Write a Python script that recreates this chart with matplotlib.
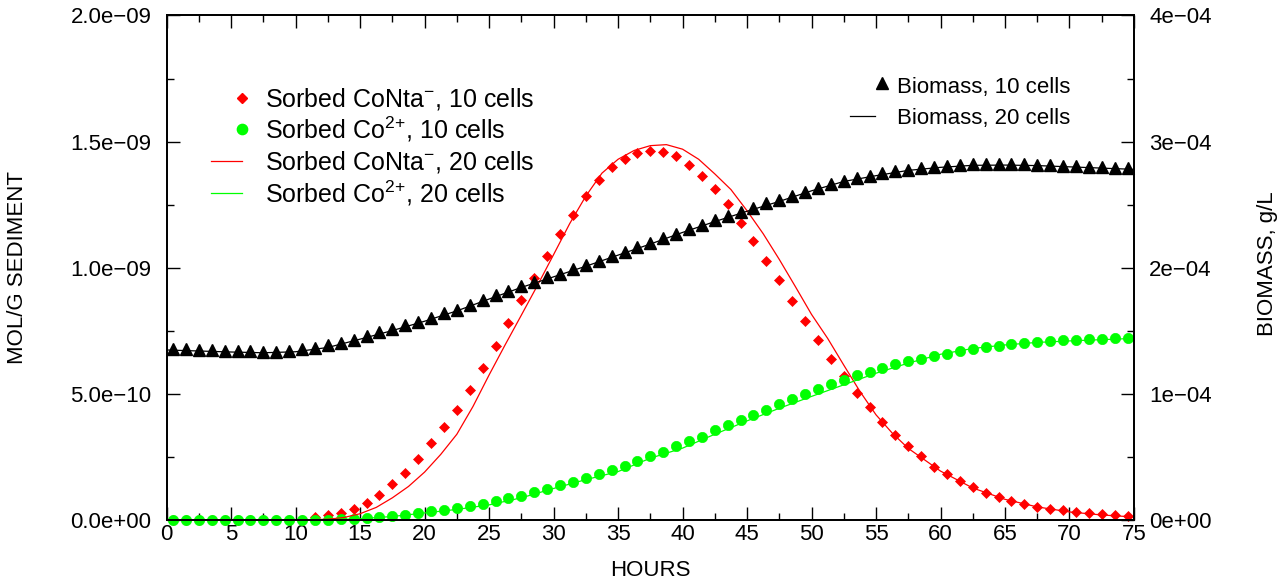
import matplotlib.pyplot as plt
import numpy as np
from matplotlib.ticker import FuncFormatter

# =========================
# DATA  (sorbed values in 1e-10 mol/g, biomass in 1e-4 g/L)
# =========================

HOURS_10 = np.arange(0.5, 75.0, 1.0)   # sample times of the 10-cell run

CONTA_10 = [0, 0, 0, 0, 0, 0, 0, 0, 0, 0, 0.02,
            0.10, 0.19, 0.29, 0.45, 0.68, 0.98, 1.41, 1.87, 2.43, 3.06, 3.67, 4.35, 5.15, 6.02,
            6.90, 7.81, 8.71, 9.61, 10.48, 11.32, 12.11, 12.85, 13.46, 13.98,
            14.31, 14.53, 14.64, 14.58, 14.42, 14.08, 13.64, 13.13, 12.51, 11.79,
            11.08, 10.27, 9.50, 8.67, 7.90,
            7.15, 6.40, 5.69, 5.05, 4.48, 3.88, 3.38, 2.94, 2.52, 2.12,
            1.83, 1.56, 1.30, 1.09, 0.90, 0.76, 0.63, 0.52, 0.44, 0.38,
            0.31, 0.26, 0.22, 0.18, 0.14]

CO_10 = [0, 0, 0, 0, 0, 0, 0, 0, 0, 0, 0, 0,
         0.02, 0.03, 0.05, 0.08, 0.11, 0.16, 0.21, 0.27, 0.34, 0.40, 0.48, 0.56, 0.64,
         0.77, 0.87, 0.97, 1.10, 1.24, 1.37, 1.50, 1.66, 1.83, 1.99,
         2.15, 2.33, 2.52, 2.71, 2.92, 3.13, 3.31, 3.55, 3.75, 3.96,
         4.17, 4.38, 4.58, 4.79, 4.99,
         5.18, 5.38, 5.56, 5.73, 5.88, 6.02, 6.17, 6.30, 6.40, 6.52,
         6.60, 6.69, 6.78, 6.85, 6.90, 6.96, 7.02, 7.06, 7.08, 7.12,
         7.14, 7.16, 7.17, 7.20, 7.23]

BIOMASS_10 = [1.354, 1.352, 1.350, 1.350, 1.342, 1.340, 1.340, 1.336, 1.336, 1.340,
              1.354, 1.366, 1.384, 1.406, 1.430, 1.456, 1.488, 1.512, 1.544, 1.572,
              1.602, 1.638, 1.668, 1.704, 1.742,
              1.782, 1.814, 1.854, 1.888, 1.924, 1.954, 1.988, 2.022, 2.054, 2.092,
              2.126, 2.162, 2.198, 2.236, 2.268, 2.308, 2.340, 2.376, 2.408, 2.440,
              2.474, 2.510, 2.536, 2.572, 2.602,
              2.636, 2.662, 2.686, 2.708, 2.728, 2.748, 2.764, 2.776, 2.792, 2.800,
              2.808, 2.816, 2.820, 2.822, 2.822, 2.822, 2.820, 2.816, 2.812, 2.808,
              2.804, 2.800, 2.798, 2.792, 2.788]

HOURS_20 = np.arange(0.0, 75.1, 2.5)   # sample times of the 20-cell run

CO_20 = [0, 0, 0, 0, 0, 0.01, 0.05, 0.14, 0.28, 0.42, 0.60, 0.88, 1.25, 1.60, 1.92,
         2.45, 2.85, 3.40, 3.93, 4.43, 4.90, 5.36, 5.82, 6.22, 6.57, 6.80, 6.94,
         7.04, 7.10, 7.15, 7.20]

BIOMASS_20 = [1.348, 1.340, 1.332, 1.326, 1.334, 1.368, 1.434, 1.502, 1.576, 1.658,
              1.752, 1.844, 1.928, 2.012, 2.100, 2.188, 2.280, 2.366, 2.448, 2.526,
              2.610, 2.684, 2.730, 2.772, 2.796, 2.812, 2.814, 2.810, 2.800, 2.790,
              2.780]

HOURS_20_CONTA = [0, 2.5, 5, 7.5, 10, 12.5, 13.75, 15, 16.25, 17.5, 18.75, 20, 21.25,
                  22.5, 23.75, 25, 26.25, 27.5, 28.75, 30, 31.25, 32.5, 33.75, 35,
                  36.25, 37.5, 38.75, 40, 41.25, 42.5, 43.75, 45, 46.25, 47.5, 48.75,
                  50, 51.25, 52.5, 53.75, 55, 56.25, 57.5, 60, 62.5, 65, 67.5, 70,
                  72.5, 75]
CONTA_20 = [0, 0, 0, 0, 0, 0.03, 0.10, 0.25, 0.50, 0.88, 1.33, 1.90, 2.60,
            3.40, 4.50, 5.75, 6.95, 8.12, 9.30, 10.52, 11.75, 12.84, 13.75, 14.30,
            14.65, 14.84, 14.88, 14.70, 14.30, 13.72, 13.10, 12.26, 11.35, 10.33, 9.25,
            8.15, 7.20, 6.14, 5.10, 4.17, 3.45, 2.84, 1.94, 1.27, 0.82, 0.52, 0.32,
            0.20, 0.12]

SORB_UNIT = 1e-10
BIO_UNIT = 1e-4

RED = "#ff0000"
GREEN = "#00ff00"

# =========================
# STYLE
# =========================

plt.rcParams['font.family'] = ['Liberation Sans', 'DejaVu Sans']
plt.rcParams['mathtext.fontset'] = 'custom'
plt.rcParams['mathtext.rm'] = 'Liberation Sans'
plt.rcParams['mathtext.it'] = 'Liberation Sans:italic'
plt.rcParams['mathtext.bf'] = 'Liberation Sans:bold'
FS = 16
FS_KEY = 18

fig = plt.figure(figsize=(12.77, 5.82), dpi=100)
ax = fig.add_axes([0.1305, 0.1065, 0.7575, 0.8669])
ax2 = ax.twinx()

# =========================
# PLOT
# =========================

ax.plot(HOURS_10, np.array(CONTA_10) * SORB_UNIT, linestyle="none", marker="D",
        ms=5.5, mec=RED, mfc=RED, mew=0.5, clip_on=False)
ax.plot(HOURS_10, np.array(CO_10) * SORB_UNIT, linestyle="none", marker="o",
        ms=7.4, mec=GREEN, mfc=GREEN, mew=0.5, clip_on=False)
ax.plot(HOURS_20_CONTA, np.array(CONTA_20) * SORB_UNIT, color=RED, lw=0.9)
ax.plot(HOURS_20, np.array(CO_20) * SORB_UNIT, color=GREEN, lw=0.9)

ax2.plot(HOURS_10, np.array(BIOMASS_10) * BIO_UNIT, linestyle="none", marker="^",
         ms=8.8, color="black", clip_on=False)
ax2.plot(HOURS_20, np.array(BIOMASS_20) * BIO_UNIT, color="black", lw=0.9)

# =========================
# AXES
# =========================

ax.set_xlim(0, 75)
ax.set_ylim(0, 2e-9)
ax2.set_ylim(0, 4e-4)

ax.set_xticks(np.arange(0, 75.1, 5))
ax.set_xticks(np.arange(2.5, 75, 5), minor=True)
ax.set_yticks(np.arange(0, 2.01e-9, 5e-10))
ax.set_yticks(np.arange(2.5e-10, 2e-9, 5e-10), minor=True)
ax2.set_yticks(np.arange(0, 4.01e-4, 1e-4))
ax2.set_yticks(np.arange(0.5e-4, 4e-4, 1e-4), minor=True)

ax.yaxis.set_major_formatter(FuncFormatter(lambda v, p: f"{v:.1e}".replace("-", "\u2212")))
ax2.yaxis.set_major_formatter(FuncFormatter(lambda v, p: f"{v:.0e}".replace("-", "\u2212")))

ax.tick_params(axis="x", which="both", direction="in", top=True, bottom=True,
               labelsize=FS, pad=3)
ax.tick_params(axis="y", which="both", direction="in", left=True, right=False,
               labelsize=FS, pad=11)
ax2.tick_params(axis="y", which="both", direction="in", labelsize=FS, pad=11)
for a in (ax, ax2):
    a.tick_params(which="major", length=9.5, width=1.0)
    a.tick_params(which="minor", length=5, width=1.0)
    for s in a.spines.values():
        s.set_linewidth(1.3)

fig.text(18 / 1277, 1 - 268 / 582, "MOL/G SEDIMENT", rotation=90,
         ha="center", va="center", fontsize=FS)
fig.text(1267 / 1277, 1 - 264 / 582, "BIOMASS, g/L", rotation=90,
         ha="center", va="center", fontsize=FS)
fig.text(650 / 1277, 1 - 570 / 582, "HOURS", ha="center", va="center", fontsize=FS)

# =========================
# KEYS (drawn by hand, gnuplot style)
# =========================

tr = ax.transAxes

left_rows = [0.837, 0.7744, 0.7116, 0.6476]
ax.plot([0.0775], [left_rows[0]], marker="D", ms=5.5, color=RED, transform=tr, clip_on=False)
ax.plot([0.0775], [left_rows[1]], marker="o", ms=7.4, color=GREEN, transform=tr, clip_on=False)
ax.plot([0.0458, 0.0775], [left_rows[2]] * 2, color=RED, lw=0.9, transform=tr, clip_on=False)
ax.plot([0.0458, 0.0775], [left_rows[3]] * 2, color=GREEN, lw=0.9, transform=tr, clip_on=False)
left_labels = [r"Sorbed CoNta$^{-}$, 10 cells", r"Sorbed Co$^{2{+}}$, 10 cells",
               r"Sorbed CoNta$^{-}$, 20 cells", r"Sorbed Co$^{2{+}}$, 20 cells"]
for yy, lab in zip(left_rows, left_labels):
    ax.text(0.1016, yy - 0.0175, lab, transform=tr, fontsize=FS_KEY, va="baseline", ha="left")

right_rows = [0.8622, 0.8014]
ax.plot([0.739], [0.866], marker="^", ms=8.8, color="black", transform=tr, clip_on=False)
ax.plot([0.7064, 0.7322], [right_rows[1]] * 2, color="black", lw=0.9, transform=tr, clip_on=False)
for yy, lab in zip(right_rows, ["Biomass, 10 cells", "Biomass, 20 cells"]):
    ax.text(0.7547, yy - 0.0159, lab, transform=tr, fontsize=FS, va="baseline", ha="left")

fig.savefig("out.png", dpi=100)
